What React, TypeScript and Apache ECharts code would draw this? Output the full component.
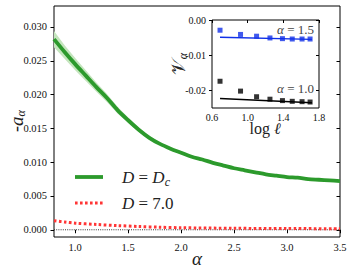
import React, { useEffect, useRef } from "react";
import * as echarts from "echarts";

// ---- main panel data ----
const alphaGrid = [0.8, 0.9, 1.0, 1.1, 1.2, 1.3, 1.4, 1.5, 1.6, 1.7, 1.8, 1.9, 2.0, 2.1, 2.2, 2.3, 2.4, 2.5, 2.6, 2.7, 2.8, 2.9, 3.0, 3.1, 3.2, 3.3, 3.4, 3.5];
const greenVals = [0.0282, 0.0263, 0.0245, 0.0228, 0.0211, 0.0195, 0.0177, 0.0162, 0.0148, 0.0136, 0.0127, 0.012, 0.0114, 0.0108, 0.0104, 0.0099, 0.0095, 0.0091, 0.0088, 0.0085, 0.0082, 0.008, 0.0078, 0.0077, 0.0075, 0.0074, 0.0073, 0.0072];
const bandHalf = [0.0012, 0.001, 0.0009, 0.0008, 0.0007, 0.0006, 0.0005, 0.0004, 0.0003, 0.0003, 0.0002, 0.0002, 0.0002, 0.0001, 0.0001, 0.0001, 0.0001, 0.0001, 0.0001, 0.0001, 0.0001, 0.0001, 0.0001, 0.0001, 0.0001, 0.0001, 0.0001, 0.0001];
const redAlpha = [0.8, 0.9, 1.0, 1.2, 1.4, 1.6, 1.8, 2.0, 2.5, 3.0, 3.5];
const redVals = [0.00135, 0.00115, 0.00098, 0.00078, 0.00062, 0.00048, 0.00038, 0.0003, 0.00022, 0.00018, 0.00016];
const zeroLineX = [0.8, 3.5];
const mainXTicks = [1.0, 1.5, 2.0, 2.5, 3.0, 3.5];
const mainYTicks = [0, 0.005, 0.01, 0.015, 0.02, 0.025, 0.03];

// ---- inset data ----
const logL = [0.69, 0.92, 1.1, 1.25, 1.39, 1.5, 1.61, 1.7];
const nu15 = [-0.0029, -0.0041, -0.0046, -0.0051, -0.0053, -0.0054, -0.0054, -0.0054];
const nu10 = [-0.0174, -0.0202, -0.0218, -0.0225, -0.0229, -0.0231, -0.0232, -0.0233];
const fitX = [0.69, 1.72];
const fit15 = [-0.0049, -0.0055];
const fit10 = [-0.0223, -0.0235];
const insetXTicks = [0.6, 1.0, 1.4, 1.8];
const insetYTicks = [0, -0.01, -0.02];

const SERIF = "Liberation Serif";
const GREEN = "#2c9a2c";
const RED = "#ff3535";
const BLUE = "#1030e8";

export default function App() {
  const ref = useRef<HTMLDivElement>(null);
  useEffect(() => {
    if (!ref.current) return;
    const chart = echarts.init(ref.current, undefined, { renderer: "svg" });
    const tickLabel = { fontFamily: SERIF, fontSize: 10.5, color: "#111" };
    const option: any = {
      animation: false,
      backgroundColor: "#fff",
      textStyle: { fontFamily: SERIF },
      grid: [
        { left: 54, right: 13, top: 6, bottom: 33, show: true, borderColor: "#000", borderWidth: 1, backgroundColor: "transparent" },
        { left: 212, right: 34, top: 20, bottom: 162, show: true, borderColor: "#000", borderWidth: 1, backgroundColor: "#fff" },
      ],
      xAxis: [
        {
          type: "value", gridIndex: 0, min: 0.8, max: 3.5,
          axisLine: { show: false }, splitLine: { show: false },
          axisTick: { show: true, length: 3.5, lineStyle: { color: "#000" }, customValues: mainXTicks },
          axisLabel: { ...tickLabel, margin: 5, customValues: mainXTicks, formatter: (v: number) => v.toFixed(1) },
        },
        {
          type: "value", gridIndex: 1, min: 0.6, max: 1.8,
          axisLine: { show: false }, splitLine: { show: false },
          axisTick: { show: true, length: 3, lineStyle: { color: "#000" }, customValues: insetXTicks },
          axisLabel: { ...tickLabel, fontSize: 10, margin: 4, customValues: insetXTicks, formatter: (v: number) => v.toFixed(1) },
        },
      ],
      yAxis: [
        {
          type: "value", gridIndex: 0, min: -0.00107, max: 0.0331,
          axisLine: { show: false }, splitLine: { show: false },
          axisTick: { show: true, length: 3.5, lineStyle: { color: "#000" }, customValues: mainYTicks },
          axisLabel: { ...tickLabel, margin: 7, customValues: mainYTicks, formatter: (v: number) => v.toFixed(3) },
        },
        {
          type: "value", gridIndex: 0, min: -0.00107, max: 0.0331, position: "right",
          axisLine: { show: false }, splitLine: { show: false },
          axisTick: { show: true, inside: true, length: 3.5, lineStyle: { color: "#000" }, customValues: mainYTicks },
          axisLabel: { show: false },
        },
        {
          type: "value", gridIndex: 1, min: -0.025, max: 0,
          axisLine: { show: false }, splitLine: { show: false },
          axisTick: { show: true, length: 3, lineStyle: { color: "#000" }, customValues: insetYTicks },
          axisLabel: { ...tickLabel, fontSize: 10, margin: 6, customValues: insetYTicks, formatter: (v: number) => (v === 0 ? "0.00" : v.toFixed(2)) },
        },
        {
          type: "value", gridIndex: 1, min: -0.025, max: 0, position: "right",
          axisLine: { show: false }, splitLine: { show: false },
          axisTick: { show: true, inside: true, length: 3, lineStyle: { color: "#000" }, customValues: insetYTicks },
          axisLabel: { show: false },
        },
      ],
      series: [
        {
          type: "custom", xAxisIndex: 0, yAxisIndex: 0, silent: true, z: 1,
          data: [[alphaGrid[0], greenVals[0]]],
          renderItem: (_p: any, api: any) => {
            const up = alphaGrid.map((a, i) => api.coord([a, greenVals[i] + bandHalf[i]]));
            const lo = alphaGrid.map((a, i) => api.coord([a, greenVals[i] - bandHalf[i]])).reverse();
            return { type: "polygon", shape: { points: [...up, ...lo] }, style: { fill: "#c4e5bd" } };
          },
        },
        {
          type: "line", xAxisIndex: 0, yAxisIndex: 0, showSymbol: false, smooth: 0.3, z: 3,
          data: alphaGrid.map((a, i) => [a, greenVals[i]]),
          lineStyle: { color: GREEN, width: 3.8 },
        },
        {
          type: "line", xAxisIndex: 0, yAxisIndex: 0, showSymbol: false, smooth: 0.3, z: 3,
          data: redAlpha.map((a, i) => [a, redVals[i]]),
          lineStyle: { color: RED, width: 3, type: [2.6, 2.4], cap: "butt" },
        },
        {
          type: "line", xAxisIndex: 0, yAxisIndex: 0, showSymbol: false, z: 2,
          data: zeroLineX.map((a) => [a, 0]),
          lineStyle: { color: "#333", width: 1, type: [1, 1.2] },
        },
        {
          type: "line", xAxisIndex: 1, yAxisIndex: 2, showSymbol: false, z: 3,
          data: fitX.map((a, i) => [a, fit15[i]]),
          lineStyle: { color: BLUE, width: 1.4 },
        },
        {
          type: "line", xAxisIndex: 1, yAxisIndex: 2, showSymbol: false, z: 3,
          data: fitX.map((a, i) => [a, fit10[i]]),
          lineStyle: { color: "#000", width: 1.4 },
        },
        {
          type: "scatter", xAxisIndex: 1, yAxisIndex: 2, symbol: "rect", symbolSize: 5, z: 4,
          data: logL.map((a, i) => [a, nu15[i]]),
          itemStyle: { color: BLUE },
        },
        {
          type: "scatter", xAxisIndex: 1, yAxisIndex: 2, symbol: "rect", symbolSize: 5, z: 4,
          data: logL.map((a, i) => [a, nu10[i]]),
          itemStyle: { color: "#000" },
        },
      ],
      graphic: [
        // legend
        { type: "line", shape: { x1: 75, y1: 177, x2: 103, y2: 177 }, style: { stroke: GREEN, lineWidth: 3.8 } },
        { type: "line", shape: { x1: 75, y1: 203, x2: 103, y2: 203 }, style: { stroke: RED, lineWidth: 3, lineDash: [2.6, 2.4] } },
        {
          type: "text", x: 122, y: 177,
          style: {
            text: "{i|D} = {i|D}{s|c}", fontFamily: SERIF, fontSize: 17, fill: "#222", verticalAlign: "middle", align: "left",
            rich: {
              i: { fontFamily: SERIF, fontSize: 17, fontStyle: "italic", lineHeight: 22 },
              s: { fontFamily: SERIF, fontSize: 12, fontStyle: "italic", lineHeight: 12, verticalAlign: "bottom" },
            },
          },
        },
        {
          type: "text", x: 122, y: 203,
          style: {
            text: "{i|D} = 7.0", fontFamily: SERIF, fontSize: 17, fill: "#222", verticalAlign: "middle", align: "left",
            rich: { i: { fontFamily: SERIF, fontSize: 17, fontStyle: "italic" } },
          },
        },
        // axis titles
        {
          type: "text", x: 197, y: 258,
          style: { text: "α", fontFamily: SERIF, fontSize: 19, fontStyle: "italic", fill: "#222", align: "center", verticalAlign: "middle" },
        },
        {
          type: "text", x: 16, y: 121, rotation: Math.PI / 2,
          style: {
            text: "-{i|a}{s|α}", fontFamily: SERIF, fontSize: 18, fill: "#222", align: "center", verticalAlign: "middle",
            rich: {
              i: { fontFamily: SERIF, fontSize: 19, fontStyle: "italic", lineHeight: 22 },
              s: { fontFamily: SERIF, fontSize: 12, fontStyle: "italic", lineHeight: 12, verticalAlign: "bottom" },
            },
          },
        },
        {
          type: "text", x: 178, y: 64, rotation: Math.PI / 2,
          style: {
            text: "{i|𝒱}{s|α}", fontFamily: SERIF, fontSize: 18, fill: "#222", align: "center", verticalAlign: "middle",
            rich: {
              i: { fontSize: 19, lineHeight: 22 },
              s: { fontFamily: SERIF, fontSize: 12, fontStyle: "italic", lineHeight: 12, verticalAlign: "bottom" },
            },
          },
        },
        {
          type: "text", x: 265, y: 128,
          style: {
            text: "log {i|ℓ}", fontFamily: SERIF, fontSize: 16, fill: "#222", align: "center", verticalAlign: "middle",
            rich: { i: { fontFamily: SERIF, fontSize: 16, fontStyle: "italic" } },
          },
        },
        // inset annotations
        {
          type: "text", x: 314, y: 29,
          style: {
            text: "{i|α} = 1.5", fontFamily: SERIF, fontSize: 13, fill: "#444", align: "right", verticalAlign: "middle",
            rich: { i: { fontFamily: SERIF, fontSize: 13, fontStyle: "italic" } },
          },
        },
        {
          type: "text", x: 314, y: 88,
          style: {
            text: "{i|α} = 1.0", fontFamily: SERIF, fontSize: 13, fill: "#444", align: "right", verticalAlign: "middle",
            rich: { i: { fontFamily: SERIF, fontSize: 13, fontStyle: "italic" } },
          },
        },
      ],
    };
    chart.setOption(option);
    return () => chart.dispose();
  }, []);
  return <div ref={ref} style={{ position: "fixed", left: 0, top: 0, width: 353, height: 270 }} />;
}
